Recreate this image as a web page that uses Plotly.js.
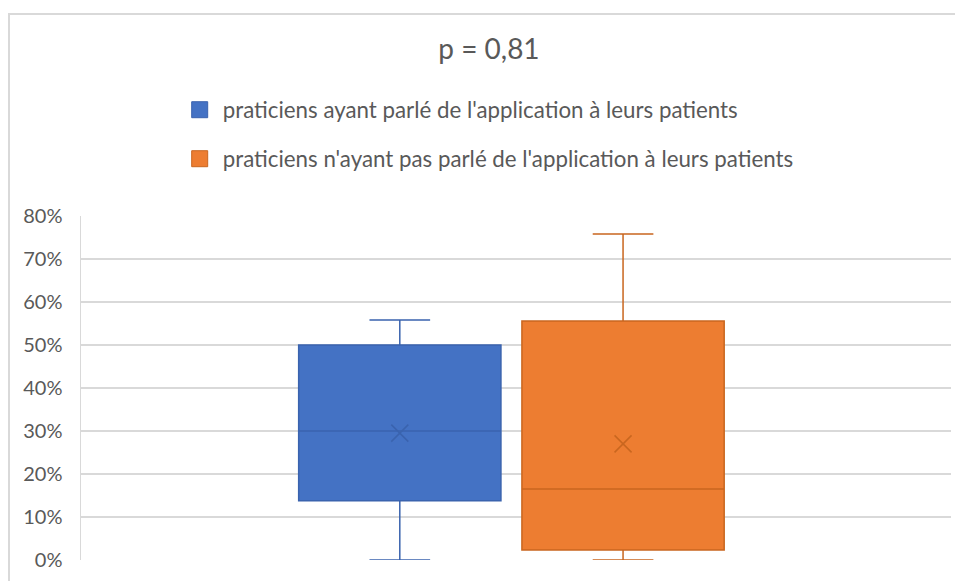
<!DOCTYPE html>
<html>
<head>
<meta charset="utf-8">
<script src="https://cdn.plot.ly/plotly-3.0.1.min.js"></script>
<style>
html,body{margin:0;padding:0;background:#fff;}
#frame{position:absolute;left:8px;top:13px;width:960px;height:580px;border-left:2px solid #d9d9d9;border-top:2px solid #d9d9d9;}
#chart{position:absolute;left:0;top:0;width:955px;height:581px;}
</style>
</head>
<body>
<div id="frame"></div>
<div id="chart"></div>
<script>
// Data (fractions)
var seriesNames = ["praticiens ayant parlé de l'application à leurs patients",
                   "praticiens n'ayant pas parlé de l'application à leurs patients"];
var categories = ["A", "B"];
var minVals    = [0.00, 0.00];
var q1Vals     = [0.138, 0.023];
var medianVals = [0.30, 0.165];
var q3Vals     = [0.50, 0.556];
var maxVals    = [0.558, 0.758];
var meanVals   = [0.295, 0.270];
var fillColors = ["#4472C4", "#ED7D31"];
var lineColors = ["#3A63AE", "#C9661F"];
var titleText  = "p = 0,81";
var yTickVals  = [0, 0.1, 0.2, 0.3, 0.4, 0.5, 0.6, 0.7, 0.8];

var FONT = "Lato, 'Open Sans', sans-serif";
var traces = [];
for (var i = 0; i < seriesNames.length; i++) {
  traces.push({
    type: 'box',
    name: seriesNames[i],
    x: [categories[i]],
    q1: [q1Vals[i]], median: [medianVals[i]], q3: [q3Vals[i]],
    lowerfence: [minVals[i]], upperfence: [maxVals[i]],
    fillcolor: fillColors[i],
    line: {color: lineColors[i], width: 1.5},
    whiskerwidth: 0.3,
    boxpoints: false,
    showlegend: false,
    hoverinfo: 'skip'
  });
  traces.push({
    type: 'scatter', mode: 'markers',
    x: [categories[i]], y: [meanVals[i]],
    marker: {symbol: 'x-thin-open', size: 17, line: {color: lineColors[i], width: 1.5}, color: lineColors[i]},
    showlegend: false, hoverinfo: 'skip'
  });
  // legend entry
  traces.push({
    type: 'scatter', mode: 'markers',
    x: [null], y: [null],
    name: seriesNames[i],
    legendgroup: 'g' + i,
    marker: {symbol: 'square', size: 16, color: fillColors[i], line: {color: lineColors[i], width: 1}},
    showlegend: true
  });
}

var layout = {
  width: 955, height: 581,
  paper_bgcolor: 'rgba(0,0,0,0)',
  plot_bgcolor: 'rgba(0,0,0,0)',
  margin: {l: 81, r: 4, t: 216, b: 21},
  font: {family: FONT, color: '#595959', size: 20},
  title: {text: titleText, font: {family: FONT, size: 28, color: '#595959'}, x: 0.512, xanchor: 'center', y: 0.915, yanchor: 'middle'},
  boxmode: 'overlay',
  boxgap: 0.094,
  boxgroupgap: 0,
  showlegend: true,
  legend: {x: 0.110, xanchor: 'left', y: 1.37, yanchor: 'top', itemwidth: 36, tracegroupgap: 17, font: {family: FONT, size: 22.3, color: '#595959'}, bgcolor: 'rgba(0,0,0,0)'},
  xaxis: {
    type: 'category', range: [-1.428, 2.469], showticklabels: false, showgrid: false, zeroline: false, showline: false, fixedrange: true
  },
  yaxis: {
    range: [0, 0.8], tickvals: yTickVals, tickformat: '.0%', showgrid: true, gridcolor: '#d9d9d9', gridwidth: 1.5,
    zeroline: false, showline: true, linecolor: '#d9d9d9', linewidth: 1.5, ticks: 'outside', ticklen: 13, tickcolor: 'rgba(0,0,0,0)',
    tickfont: {family: FONT, size: 20, color: '#595959'}
  }
};
Plotly.newPlot('chart', traces, layout, {displayModeBar: false, staticPlot: true});
</script>
</body>
</html>
